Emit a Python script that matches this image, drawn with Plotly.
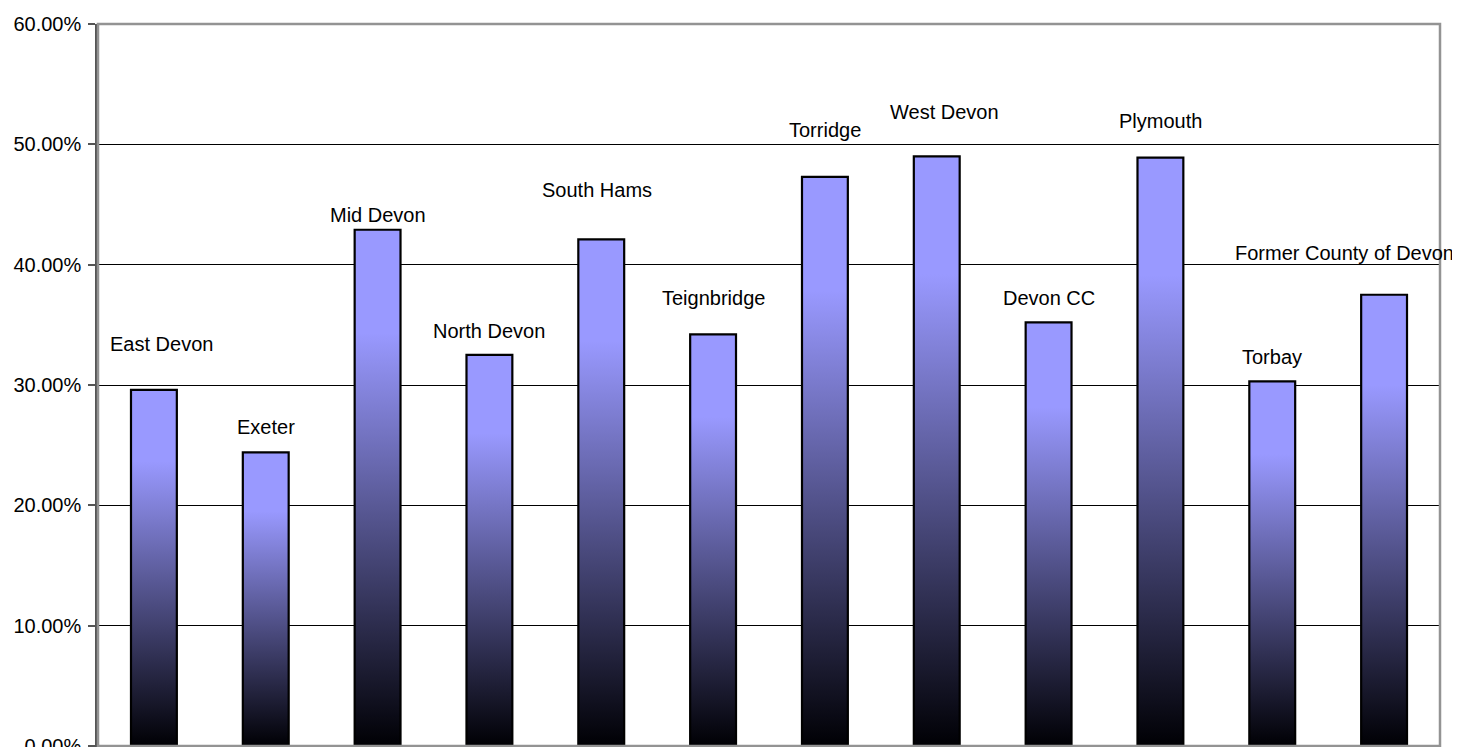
import plotly.graph_objects as go

categories = ["East Devon", "Exeter", "Mid Devon", "North Devon", "South Hams",
              "Teignbridge", "Torridge", "West Devon", "Devon CC", "Plymouth",
              "Torbay", "Former County of Devon"]
values = [0.296, 0.244, 0.429, 0.325, 0.421, 0.342, 0.473, 0.490, 0.352, 0.489, 0.303, 0.375]
# label placement (manually positioned in the original chart)
label_y = [0.334, 0.265, 0.441, 0.345, 0.462, 0.372, 0.512, 0.527, 0.372, 0.519, 0.323, 0.410]
label_dx = [0.07, 0.0, 0.0, 0.0, -0.04, 0.0, 0.0, 0.07, 0.0, 0.0, 0.0, -0.35]
y_ticks = [0.0, 0.1, 0.2, 0.3, 0.4, 0.5, 0.6]

BAR_W = 0.41
FONT = "Liberation Sans, Arial, sans-serif"

fig = go.Figure()
for i, (cat, v) in enumerate(zip(categories, values)):
    x0, x1 = i - BAR_W / 2, i + BAR_W / 2
    fig.add_trace(go.Scatter(
        x=[x0, x1, x1, x0, x0], y=[0, 0, v, v, 0],
        mode="lines", fill="toself",
        line=dict(color="#000000", width=2.2),
        fillgradient=dict(type="vertical",
                          colorscale=[[0, "#000004"], [0.8, "#9999ff"], [1, "#9999ff"]]),
        name=cat, showlegend=False, hoverinfo="skip",
    ))

for i, cat in enumerate(categories):
    fig.add_annotation(x=i + label_dx[i], y=label_y[i], text=cat, showarrow=False,
                       xref="x", yref="y", font=dict(size=20, color="#000000", family=FONT),
                       xanchor="center", yanchor="middle")

fig.add_shape(type="rect", xref="paper", yref="paper", x0=0, x1=1, y0=0, y1=1,
              line=dict(color="#939393", width=2.5), fillcolor="rgba(0,0,0,0)", layer="above")

fig.update_layout(
    width=1460, height=747,
    margin=dict(l=90, r=28, t=16, b=9),
    paper_bgcolor="#ffffff", plot_bgcolor="#ffffff",
    font=dict(family=FONT, size=20, color="#000000"),
    xaxis=dict(range=[-0.5, len(categories) - 0.5], tickmode="array",
               tickvals=[i + 0.5 for i in range(-1, len(categories))],
               showticklabels=False, ticks="outside", ticklen=6, tickcolor="#555555",
               tickwidth=1.5, showgrid=False, zeroline=False, automargin=False,
               showline=True, linecolor="#555555", linewidth=2.5),
    yaxis=dict(range=[0, 0.6], tickmode="array", tickvals=y_ticks, tickformat=".2%",
               ticks="outside", ticklen=7, tickcolor="#555555", tickwidth=1.5,
               ticklabelstandoff=3, automargin=False, ticklabeloverflow="allow",
               showgrid=True, gridcolor="#000000", gridwidth=1, zeroline=False,
               showline=True, linecolor="#555555", linewidth=2.5,
               tickfont=dict(size=20, family=FONT, color="#000000")),
)

fig.write_html("out.html")
